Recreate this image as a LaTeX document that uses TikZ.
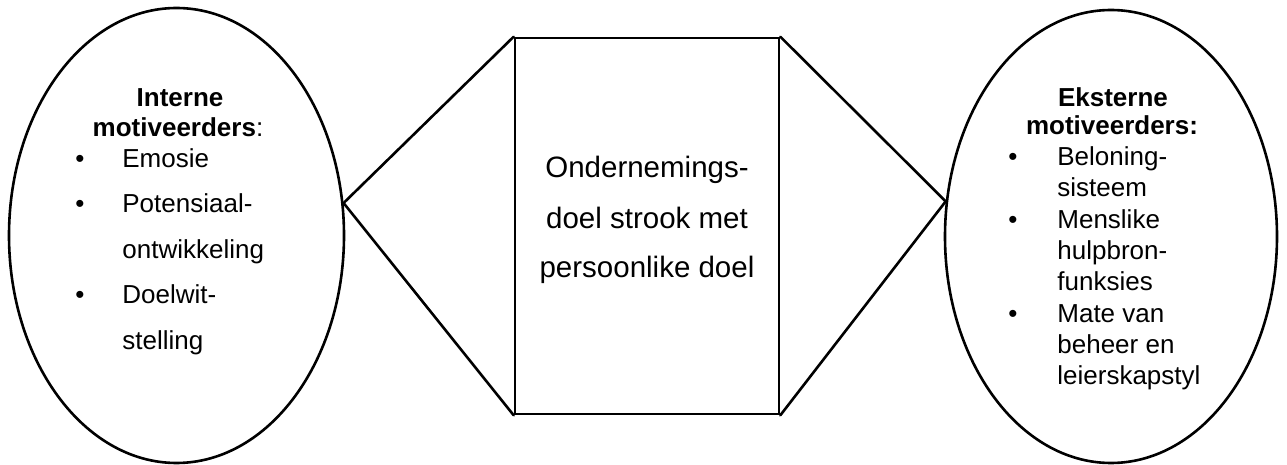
\documentclass[tikz,border=0pt]{standalone}
\usepackage{fontspec}
\setmainfont{Liberation Sans}
\usetikzlibrary{shapes.geometric}
\begin{document}
\begin{tikzpicture}[x=0.5pt,y=-0.5pt,
  shapeline/.style={draw=black, line width=1.3pt},
  linkline/.style={draw=black, line width=1.3pt, line cap=round},
  sidetext/.style={font=\fontsize{13}{15}\selectfont, inner sep=0pt, anchor=base west},
  sidetitle/.style={font=\fontsize{13}{15}\selectfont\bfseries, inner sep=0pt, anchor=base},
  bulletdot/.style={font=\fontsize{13}{15}\selectfont, inner sep=0pt, anchor=base},
  midtext/.style={font=\fontsize{14.75}{17}\selectfont, inner sep=0pt, anchor=base}]
\fill[white] (0,0) rectangle (1287,465);
\useasboundingbox (0,0) rectangle (1287,465);

% shapes
\node[ellipse, shapeline, minimum width=167.5pt, minimum height=227.5pt, inner sep=0pt] (L) at (176.5,235.5) {};
\node[ellipse, shapeline, minimum width=166pt, minimum height=226.5pt, inner sep=0pt] (R) at (1111,236.5) {};
\node[rectangle, shapeline, minimum width=132pt, minimum height=188pt, inner sep=0pt] (C) at (647,226) {};

% connectors
\draw[linkline] (C.north west) -- (L.11) -- (C.south west);
\draw[linkline] (C.north east) -- (R.168) -- (C.south east);

% left text
\node[sidetitle] (lt1) at (180,107) {Interne};
\node[sidetitle] (lt2) at (178,137) {motiveerders\mdseries:};
\node[bulletdot] (lb1) at (80,168) {•};
\node[sidetext] (li1) at (122,168) {Emosie};
\node[bulletdot] (lb2) at (80,213) {•};
\node[sidetext] (li2) at (122,213) {Potensiaal-};
\node[sidetext] (li3) at (122,259) {ontwikkeling};
\node[bulletdot] (lb3) at (80,304) {•};
\node[sidetext] (li4) at (122,304) {Doelwit-};
\node[sidetext] (li5) at (122,350) {stelling};

% centre text
\node[midtext] (m1) at (647,178) {Ondernemings-};
\node[midtext] (m2) at (647,228) {doel strook met};
\node[midtext] (m3) at (647,278) {persoonlike doel};

% right text
\node[sidetitle] (rt1) at (1113,107) {Eksterne};
\node[sidetitle] (rt2) at (1112,135) {motiveerders:};
\node[bulletdot] (rb1) at (1013,166) {•};
\node[sidetext] (ri1) at (1057,166) {Beloning-};
\node[sidetext] (ri2) at (1057,197) {sisteem};
\node[bulletdot] (rb2) at (1013,228) {•};
\node[sidetext] (ri3) at (1057,228) {Menslike};
\node[sidetext] (ri4) at (1057,260) {hulpbron-};
\node[sidetext] (ri5) at (1057,291) {funksies};
\node[bulletdot] (rb3) at (1013,322) {•};
\node[sidetext] (ri6) at (1057,322) {Mate van};
\node[sidetext] (ri7) at (1057,353) {beheer en};
\node[sidetext] (ri8) at (1057,384) {leierskapstyl};
\end{tikzpicture}
\end{document}
